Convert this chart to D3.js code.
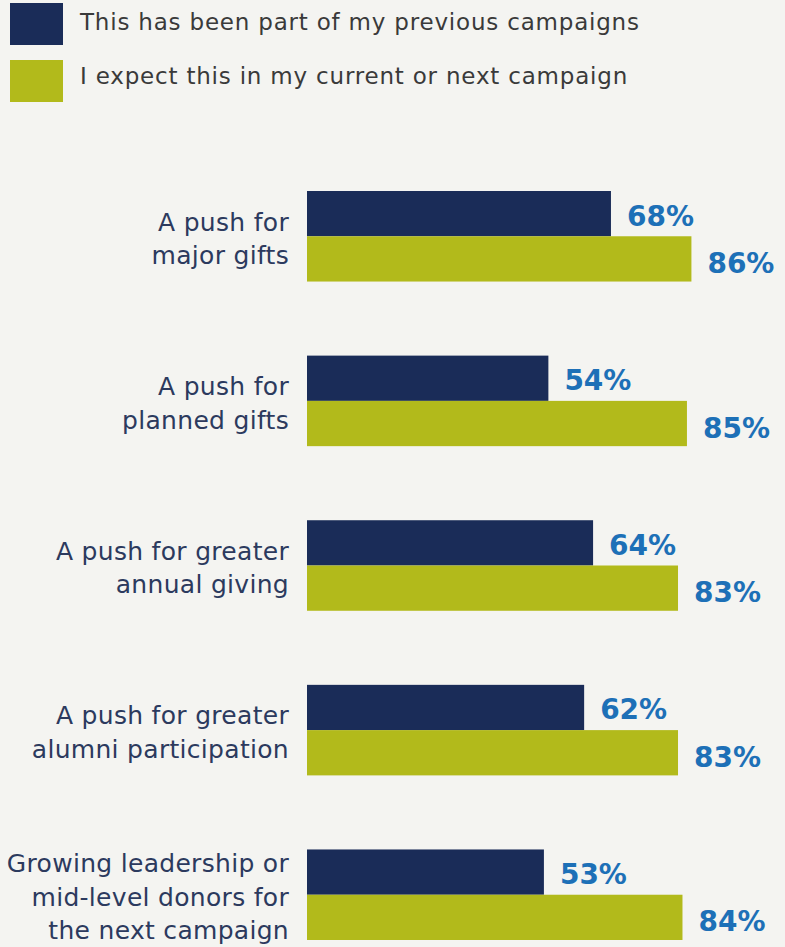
<!DOCTYPE html>
<html>
<head>
<meta charset="utf-8">
<script src="https://cdn.jsdelivr.net/npm/d3@7"></script>
<style>
  html, body { margin: 0; padding: 0; background: #f4f4f1; }
  svg { display: block; }
</style>
</head>
<body>
<svg id="chart" width="785" height="947"></svg>
<script>
// Campaign priorities: share of respondents per item
const categories = [
  ["A push for", "major gifts"],
  ["A push for", "planned gifts"],
  ["A push for greater", "annual giving"],
  ["A push for greater", "alumni participation"],
  ["Growing leadership or", "mid-level donors for", "the next campaign"]
];
const seriesNames = [
  "This has been part of my previous campaigns",
  "I expect this in my current or next campaign"
];
const previousValues = [68, 54, 64, 62, 53];
const expectedValues = [86, 85, 83, 83, 84];

const colors = ["#1a2c58", "#b2ba1b"];
const labelBlue = "#1d70b7";
const font = "'DejaVu Sans', sans-serif";

const svg = d3.select("#chart");
const keys = categories.map((c, i) => i);

const x = d3.scaleLinear().domain([0, 100]).range([307, 754]);
const y = d3.scaleBand().domain(keys).range([191, 940]).paddingInner(0.45).paddingOuter(0);
const ySub = d3.scaleBand().domain([0, 1]).range([0, y.bandwidth()]);

// Legend
const legend = svg.append("g");
seriesNames.forEach((name, i) => {
  const g = legend.append("g").attr("transform", `translate(10, ${3 + i * 57})`);
  g.append("rect").attr("width", 53).attr("height", 42).attr("fill", colors[i]);
  g.append("text").attr("x", 70).attr("y", i === 0 ? 27 : 24)
    .attr("font-family", font).attr("font-size", 23).attr("fill", "#3a3a3a")
    .attr("letter-spacing", 0.8)
    .text(name);
});

const rows = keys.map(i => ({
  i, lines: categories[i], values: [previousValues[i], expectedValues[i]]
}));

const group = svg.selectAll("g.row").data(rows).join("g")
  .attr("class", "row")
  .attr("transform", d => `translate(0, ${y(d.i)})`);

group.selectAll("rect.bar").data(d => d.values.map((v, s) => ({ v, s }))).join("rect")
  .attr("class", "bar")
  .attr("x", x(0))
  .attr("y", d => ySub(d.s))
  .attr("width", d => x(d.v) - x(0))
  .attr("height", ySub.bandwidth())
  .attr("fill", d => colors[d.s]);

group.selectAll("text.val").data(d => d.values.map((v, s) => ({ v, s }))).join("text")
  .attr("class", "val")
  .attr("x", d => x(d.v) + 16)
  .attr("y", d => ySub(d.s) + ySub.bandwidth() / 2 + (d.s === 0 ? 12 : 14))
  .attr("font-family", font).attr("font-weight", 700).attr("font-size", 28)
  .attr("fill", labelBlue)
  .text(d => d.v + "%");

group.each(function(d) {
  const n = d.lines.length;
  const lh = 33.5;
  const mid = y.bandwidth() / 2 + 11;
  const t = d3.select(this).append("text")
    .attr("text-anchor", "end")
    .attr("font-family", font).attr("font-size", 25).attr("fill", "#2c3a5e")
    .attr("letter-spacing", 0.3);
  d.lines.forEach((line, k) => {
    t.append("tspan").attr("x", 289)
      .attr("y", mid + (k - (n - 1) / 2) * lh)
      .text(line);
  });
});
</script>
</body>
</html>
